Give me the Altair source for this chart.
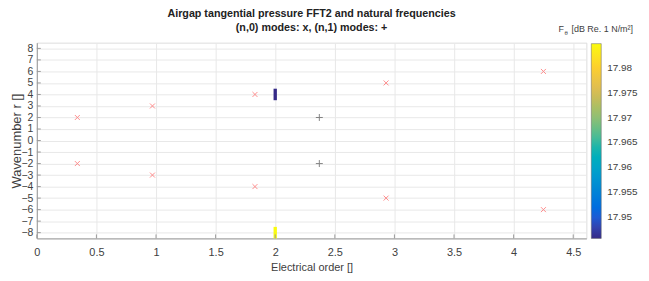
import altair as alt
import pandas as pd

# (n,0) modes: x markers
m0_order = [0.34, 0.34, 0.97, 0.97, 1.83, 1.83, 2.93, 2.93, 4.25, 4.25]
m0_wave = [2, -2, 3, -3, 4, -4, 5, -5, 6, -6]
# (n,1) modes: + markers
m1_order = [2.37, 2.37]
m1_wave = [2, -2]
# FFT2 cells
cell_order = [2.0, 2.0]
cell_wave = [4, -8]
cell_val = [17.9458, 17.9848]

x_ticks = [0, 0.5, 1, 1.5, 2, 2.5, 3, 3.5, 4, 4.5]
y_ticks = list(range(-8, 9))
cbar_ticks = [17.95, 17.955, 17.96, 17.965, 17.97, 17.975, 17.98]

title_lines = ["Airgap tangential pressure FFT2 and natural frequencies",
               "(n,0) modes: x, (n,1) modes: +"]

FONT = "Liberation Sans, Arial"
W, H = 553, 197
TXT = "#404040"

xs = alt.Scale(domain=[0, 4.61], nice=False, zero=False)
ys = alt.Scale(domain=[-8.5, 8.5], nice=False, zero=False)

parula = ['#352a87', '#0363e1', '#1485d4', '#06a7c6', '#38b99e',
          '#92bf73', '#d9ba56', '#fcce2e', '#f9fb0e']

df0 = pd.DataFrame({"o": m0_order, "r": m0_wave})
df1 = pd.DataFrame({"o": m1_order, "r": m1_wave})
dfc = pd.DataFrame({"o": cell_order, "r": cell_wave, "v": cell_val})
dfx = pd.DataFrame({"t": x_ticks})
dfy = pd.DataFrame({"t": y_ticks})

xaxis = alt.Axis(values=x_ticks, title="Electrical order []", grid=True,
                 gridColor="#e8e8e8", ticks=False, domainColor="#9a9a9a",
                 format="~g", labelOverlap=False,
                 labelFont=FONT, labelFontSize=11, labelColor=TXT,
                 titleFont=FONT, titleFontSize=11, titleFontWeight="normal",
                 titleColor=TXT, labelPadding=8, titlePadding=4,
                 labelFlush=False)
yaxis = alt.Axis(values=y_ticks, title="Wavenumber r []", grid=True,
                 gridColor="#e8e8e8", ticks=False, domainColor="#9a9a9a",
                 format="d", labelOverlap=False,
                 labelFont=FONT, labelFontSize=10.5, labelColor=TXT,
                 titleFont=FONT, titleFontSize=13, titleFontWeight="normal",
                 titleColor=TXT, labelPadding=4, titleX=-13,
                 titleY=H / 2, labelFlush=False)


def X(field):
    return alt.X(field, scale=xs, axis=xaxis)


def Y(field):
    return alt.Y(field, scale=ys, axis=yaxis)


cells = alt.Chart(dfc).mark_rect().transform_calculate(
    x1="datum.o - 0.014", x2="datum.o + 0.014",
    y1="datum.r - 0.5", y2="datum.r + 0.5"
).encode(
    x=X("x1:Q"),
    x2="x2:Q",
    y=Y("y1:Q"),
    y2="y2:Q",
    color=alt.Color("v:Q",
                    scale=alt.Scale(domain=[17.9458, 17.9848], range=parula),
                    legend=alt.Legend(title=None, orient="none", legendX=558,
                                      legendY=1, direction="vertical",
                                      gradientLength=196, gradientThickness=10,
                                      gradientStrokeColor="#666",
                                      gradientStrokeWidth=0.5,
                                      values=cbar_ticks, format=".3~f",
                                      labelFont=FONT, labelFontSize=10,
                                      labelColor=TXT, labelOffset=6)),
)

pts0 = alt.Chart(df0).mark_point(shape="M-1,-1L1,1M-1,1L1,-1", size=25,
                                 color="#ff6060", strokeWidth=1,
                                 filled=False).encode(x=X("o:Q"), y=Y("r:Q"))

pts1 = alt.Chart(df1).mark_point(shape="M-1,0L1,0M0,-1L0,1", size=49,
                                 color="#555555", strokeWidth=1,
                                 filled=False).encode(x=X("o:Q"), y=Y("r:Q"))

yticks = alt.Chart(dfy).mark_rule(color="#9a9a9a").encode(
    y=Y("t:Q"), x=alt.value(0), x2=alt.value(4))
xticks = alt.Chart(dfx).mark_rule(color="#9a9a9a").encode(
    x=X("t:Q"), y=alt.value(H), y2=alt.value(H - 4))

one = pd.DataFrame({"a": [0]})
title1 = alt.Chart(one).mark_text(
    text=title_lines[0], font=FONT, fontSize=10.8, fontWeight="bold",
    color="#222222", align="center", baseline="middle"
).encode(x=alt.value(W / 2), y=alt.value(-29))
title2 = alt.Chart(one).mark_text(
    text=title_lines[1], font=FONT, fontSize=10.8, fontWeight="bold",
    color="#222222", align="center", baseline="middle"
).encode(x=alt.value(W / 2), y=alt.value(-15))

cbar_f = alt.Chart(one).mark_text(
    text="F", font=FONT, fontSize=9, color=TXT,
    align="left", baseline="middle").encode(x=alt.value(525), y=alt.value(-14))
cbar_theta = alt.Chart(one).mark_text(
    text="θ", font=FONT, fontSize=6, color=TXT,
    align="left", baseline="middle").encode(x=alt.value(531), y=alt.value(-10))
cbar_rest = alt.Chart(one).mark_text(
    text="[dB Re. 1 N/m²]", font=FONT, fontSize=9, color=TXT,
    align="left", baseline="middle").encode(x=alt.value(538), y=alt.value(-14))

chart = alt.layer(cells, pts0, pts1, yticks, xticks,
                  title1, title2, cbar_f, cbar_theta, cbar_rest).properties(
    width=W, height=H,
    autosize=alt.AutoSizeParams(type="none"),
    padding={"left": 29, "top": 34, "right": 55, "bottom": 40},
).configure_view(stroke=None).configure(background="white")

chart.save("out.html", embed_options={"renderer": "svg", "actions": False})
